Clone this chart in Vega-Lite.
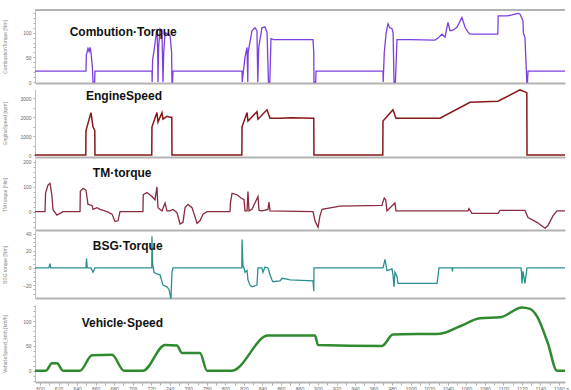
{
  "$schema": "https://vega.github.io/schema/vega-lite/v6.json",
  "padding": {"left": 2, "top": 9, "right": 6, "bottom": 0},
  "background": "white",
  "spacing": 0,
  "datasets": {
    "ct": [
      {"t": 594.6, "v": 22}, {"t": 649.6, "v": 22}, {"t": 650.0, "v": 55}, {"t": 651.8, "v": 68}, {"t": 653, "v": 62}, {"t": 654, "v": 70}, {"t": 655, "v": 60}, {"t": 656.5, "v": 30}, {"t": 657.2, "v": 0}, {"t": 659, "v": 0}, {"t": 659.3, "v": 22},
      {"t": 720.8, "v": 22}, {"t": 721, "v": 0}, {"t": 721.5, "v": 45}, {"t": 723, "v": 63}, {"t": 726.2, "v": 108}, {"t": 727, "v": 60}, {"t": 727.3, "v": 0}, {"t": 728, "v": 70}, {"t": 729.5, "v": 108}, {"t": 731.6, "v": 104}, {"t": 732.7, "v": 0}, {"t": 733.5, "v": 60}, {"t": 735, "v": 100}, {"t": 737, "v": 98}, {"t": 740.3, "v": 95}, {"t": 742, "v": 60}, {"t": 742.4, "v": 0}, {"t": 743, "v": 0}, {"t": 743.5, "v": 22},
      {"t": 818, "v": 22}, {"t": 818.2, "v": 0}, {"t": 821.2, "v": 50}, {"t": 823.4, "v": 70}, {"t": 824.2, "v": 0}, {"t": 824.6, "v": 60}, {"t": 828.7, "v": 104}, {"t": 832, "v": 110}, {"t": 834.1, "v": 104}, {"t": 835, "v": 0}, {"t": 836, "v": 70}, {"t": 839.5, "v": 110}, {"t": 842.8, "v": 112}, {"t": 845, "v": 100}, {"t": 846.5, "v": 0}, {"t": 848, "v": 0}, {"t": 849.2, "v": 88}, {"t": 852, "v": 86}, {"t": 894.6, "v": 86}, {"t": 895.4, "v": 60}, {"t": 895.6, "v": 0}, {"t": 897.5, "v": 0}, {"t": 897.8, "v": 22},
      {"t": 970.1, "v": 22}, {"t": 970.3, "v": 0}, {"t": 971.5, "v": 60}, {"t": 973.4, "v": 98}, {"t": 975.5, "v": 118}, {"t": 977.5, "v": 110}, {"t": 979.8, "v": 108}, {"t": 981, "v": 100}, {"t": 982, "v": 0}, {"t": 983.5, "v": 0}, {"t": 985.2, "v": 86}, {"t": 1000, "v": 86}, {"t": 1026.2, "v": 85}, {"t": 1029.4, "v": 89}, {"t": 1033.8, "v": 97}, {"t": 1037, "v": 91}, {"t": 1040.2, "v": 121}, {"t": 1042.4, "v": 104}, {"t": 1045.6, "v": 105}, {"t": 1049.9, "v": 111}, {"t": 1055.3, "v": 131}, {"t": 1058.6, "v": 111}, {"t": 1061.8, "v": 101}, {"t": 1064, "v": 97}, {"t": 1094, "v": 97}, {"t": 1094.4, "v": 134}, {"t": 1103.9, "v": 134}, {"t": 1109.3, "v": 136}, {"t": 1115.8, "v": 139}, {"t": 1117.9, "v": 138}, {"t": 1121.2, "v": 124}, {"t": 1121.5, "v": 100}, {"t": 1123.3, "v": 90}, {"t": 1125.3, "v": 0}, {"t": 1126, "v": 0}, {"t": 1126.6, "v": 22}, {"t": 1166.5, "v": 22}
    ],
    "es": [
      {"t": 594.6, "v": 0}, {"t": 649.4, "v": 0}, {"t": 649.6, "v": 1300}, {"t": 655, "v": 2250}, {"t": 657.2, "v": 1500}, {"t": 659.1, "v": 1300}, {"t": 659.3, "v": 0},
      {"t": 720.6, "v": 0}, {"t": 720.8, "v": 1500}, {"t": 726.2, "v": 2250}, {"t": 727.3, "v": 1750}, {"t": 731.6, "v": 2250}, {"t": 732.7, "v": 1900}, {"t": 737, "v": 2050}, {"t": 740.3, "v": 2000}, {"t": 742.2, "v": 2000}, {"t": 742.4, "v": 0},
      {"t": 817.8, "v": 0}, {"t": 818, "v": 1500}, {"t": 823.4, "v": 2250}, {"t": 824.4, "v": 1800}, {"t": 834.1, "v": 2300}, {"t": 835.2, "v": 1900}, {"t": 844.9, "v": 2400}, {"t": 848.2, "v": 1950}, {"t": 860, "v": 1950}, {"t": 870, "v": 1980}, {"t": 895.4, "v": 1950}, {"t": 895.6, "v": 0},
      {"t": 969.9, "v": 0}, {"t": 970.1, "v": 1800}, {"t": 980.9, "v": 2400}, {"t": 984.1, "v": 1950}, {"t": 1031.6, "v": 1950}, {"t": 1064, "v": 2800}, {"t": 1094.2, "v": 2850}, {"t": 1117.9, "v": 3450}, {"t": 1123.3, "v": 3350}, {"t": 1125.3, "v": 3300}, {"t": 1125.5, "v": 0}, {"t": 1166.5, "v": 0}
    ],
    "tm": [
      {"t": 594.6, "v": 0}, {"t": 605.4, "v": 0}, {"t": 606, "v": 75}, {"t": 608.6, "v": 107}, {"t": 610.8, "v": 114}, {"t": 612.9, "v": 63}, {"t": 614, "v": 8}, {"t": 618.3, "v": -14}, {"t": 621.6, "v": -7}, {"t": 624.8, "v": 0}, {"t": 643.2, "v": 0}, {"t": 643.5, "v": 82}, {"t": 646.4, "v": 94}, {"t": 649.6, "v": 87}, {"t": 651.8, "v": 29}, {"t": 656.1, "v": 25}, {"t": 657.2, "v": 9}, {"t": 661.5, "v": 16}, {"t": 664.7, "v": 9}, {"t": 672.3, "v": 0}, {"t": 677.7, "v": -10}, {"t": 680.9, "v": -40}, {"t": 684.2, "v": -37}, {"t": 686.3, "v": 0},
      {"t": 711.1, "v": 0}, {"t": 711.4, "v": 68}, {"t": 715.5, "v": 77}, {"t": 720.8, "v": 61}, {"t": 724.1, "v": 48}, {"t": 726.2, "v": 100}, {"t": 727.3, "v": 16}, {"t": 731.6, "v": 3}, {"t": 734.9, "v": 35}, {"t": 737, "v": 3}, {"t": 740.3, "v": 3}, {"t": 743.5, "v": 9}, {"t": 747.8, "v": -4}, {"t": 751.1, "v": -50}, {"t": 754.3, "v": -43}, {"t": 756.5, "v": 16}, {"t": 759.7, "v": 29}, {"t": 764, "v": 16}, {"t": 767.2, "v": -20}, {"t": 769.4, "v": -47}, {"t": 772.6, "v": -37}, {"t": 775.9, "v": -10}, {"t": 780.2, "v": 0},
      {"t": 805, "v": 0}, {"t": 805.5, "v": 35}, {"t": 807.2, "v": 74}, {"t": 812.6, "v": 68}, {"t": 816.9, "v": 55}, {"t": 820.1, "v": 48}, {"t": 821.2, "v": 3}, {"t": 823.4, "v": 3}, {"t": 824.4, "v": 81}, {"t": 825.5, "v": 3}, {"t": 828.7, "v": 9}, {"t": 835.2, "v": 61}, {"t": 836.3, "v": 5}, {"t": 839.5, "v": 3}, {"t": 846, "v": 9}, {"t": 847.1, "v": 38}, {"t": 848.2, "v": 3}, {"t": 894.6, "v": 0}, {"t": 896.7, "v": -37}, {"t": 900, "v": -63}, {"t": 902.1, "v": -17}, {"t": 904.3, "v": 9}, {"t": 923.7, "v": 22}, {"t": 969, "v": 25},
      {"t": 970.1, "v": 40}, {"t": 971.5, "v": 55}, {"t": 973, "v": 48}, {"t": 974.4, "v": 3}, {"t": 983, "v": 35}, {"t": 984.1, "v": 3}, {"t": 1061.8, "v": 3}, {"t": 1062.9, "v": 12}, {"t": 1066.1, "v": -7}, {"t": 1094.2, "v": -7}, {"t": 1096.3, "v": 5}, {"t": 1123.3, "v": 5}, {"t": 1126.6, "v": -24}, {"t": 1136.3, "v": -43}, {"t": 1144.9, "v": -67}, {"t": 1148.1, "v": -56}, {"t": 1153.5, "v": -17}, {"t": 1157.8, "v": 3}, {"t": 1166.5, "v": 3}
    ],
    "bsg": [
      {"t": 594.6, "v": 0}, {"t": 609.5, "v": 0}, {"t": 610.8, "v": 5}, {"t": 611.5, "v": 0}, {"t": 649.6, "v": 0}, {"t": 650.2, "v": 11}, {"t": 651, "v": 0}, {"t": 655, "v": 0}, {"t": 657.2, "v": -5}, {"t": 659.3, "v": 0},
      {"t": 720.6, "v": 0}, {"t": 720.8, "v": 37}, {"t": 721.5, "v": 5}, {"t": 723, "v": -5}, {"t": 726.2, "v": -7}, {"t": 729.5, "v": -8}, {"t": 732.7, "v": -20}, {"t": 737, "v": -22}, {"t": 739.2, "v": -25}, {"t": 741.3, "v": -36}, {"t": 742.4, "v": -5}, {"t": 743.5, "v": 0},
      {"t": 817.8, "v": 0}, {"t": 818, "v": 33}, {"t": 819, "v": 3}, {"t": 820.1, "v": 0}, {"t": 821.2, "v": -5}, {"t": 823.4, "v": -3}, {"t": 824.4, "v": -14}, {"t": 826.6, "v": -20}, {"t": 828.7, "v": -22}, {"t": 834.1, "v": -20}, {"t": 835.2, "v": 0}, {"t": 839.5, "v": 0}, {"t": 840.6, "v": -5}, {"t": 842.8, "v": 1}, {"t": 846, "v": 0}, {"t": 848.2, "v": -8}, {"t": 850.3, "v": -14}, {"t": 851.4, "v": -16}, {"t": 859, "v": -15}, {"t": 861.1, "v": -12}, {"t": 866.5, "v": -13}, {"t": 869.8, "v": -14}, {"t": 894.6, "v": -15}, {"t": 895.4, "v": -27}, {"t": 895.6, "v": 0},
      {"t": 970.1, "v": 0}, {"t": 972.3, "v": 10}, {"t": 974.4, "v": -3}, {"t": 979.8, "v": -1}, {"t": 980.9, "v": -8}, {"t": 982, "v": -22}, {"t": 983, "v": -5}, {"t": 985.2, "v": -10}, {"t": 986.3, "v": -18}, {"t": 1028.4, "v": -18}, {"t": 1029.4, "v": -10}, {"t": 1030.5, "v": 0}, {"t": 1044.5, "v": 0}, {"t": 1045, "v": -4}, {"t": 1045.6, "v": 0}, {"t": 1119, "v": 0}, {"t": 1119.5, "v": -4}, {"t": 1120.1, "v": -18}, {"t": 1121.2, "v": -4}, {"t": 1123.3, "v": -18}, {"t": 1125.5, "v": 0}, {"t": 1166.5, "v": 0}
    ],
    "vs": [
      {"t": 594.6, "v": 0}, {"t": 606.5, "v": 0}, {"t": 612.9, "v": 15}, {"t": 618.3, "v": 15}, {"t": 624.8, "v": 0}, {"t": 643.2, "v": 0}, {"t": 656.1, "v": 31}, {"t": 677.7, "v": 32}, {"t": 690.6, "v": 0}, {"t": 711.1, "v": 0}, {"t": 734.9, "v": 52}, {"t": 747.8, "v": 51}, {"t": 753.2, "v": 36}, {"t": 772.6, "v": 36}, {"t": 780.2, "v": 0}, {"t": 807.2, "v": 0}, {"t": 846, "v": 71}, {"t": 896.7, "v": 71}, {"t": 900, "v": 52}, {"t": 969, "v": 50}, {"t": 980.9, "v": 73}, {"t": 1031.6, "v": 75}, {"t": 1053.2, "v": 90}, {"t": 1074.8, "v": 106}, {"t": 1096.3, "v": 108}, {"t": 1120.1, "v": 128}, {"t": 1128.7, "v": 125}, {"t": 1136.3, "v": 110}, {"t": 1148.1, "v": 55}, {"t": 1157.8, "v": 0}, {"t": 1166.5, "v": 0}
    ]
  },
  "vconcat": [
    {
      "width": 530, "height": 73,
      "layer": [
        {"data": {"values": [{}]}, "mark": {"type": "rule", "color": "#b3b3b3", "strokeWidth": 2}, "encoding": {"y": {"datum": 146, "type": "quantitative"}}},
        {"data": {"name": "ct"}, "mark": {"type": "line", "color": "#7c3fe0", "strokeWidth": 1.3},
         "encoding": {
           "x": {"field": "t", "type": "quantitative", "scale": {"domain": [594.6, 1166.5], "nice": false, "zero": false}, "axis": {"labels": false, "ticks": false, "title": null, "domainWidth": 2, "domainColor": "#b3b3b3", "minExtent": 0, "maxExtent": 0, "labelPadding": 0}},
           "y": {"field": "v", "type": "quantitative", "scale": {"domain": [-2, 146], "nice": false, "zero": false}, "axis": {"title": "CombustionTorque [Nm]", "tickCount": 500, "format": "d", "values": [0,10,20,30,40,50,60,70,80,90,100,110,120,130,140], "labelExpr": "datum.value % 50 == 0 ? datum.label : ''"}}
         }},
        {"data": {"values": [{"t": 632, "v": 101, "label": "Combution·Torque"}]}, "mark": {"type": "text", "align": "left", "baseline": "middle", "font": "Liberation Sans", "fontWeight": "bold", "fontSize": 12, "color": "#111"},
         "encoding": {"x": {"field": "t", "type": "quantitative"}, "y": {"field": "v", "type": "quantitative"}, "text": {"field": "label"}}}
      ]
    },
    {
      "width": 530, "height": 68,
      "layer": [
        {"data": {"name": "es"}, "mark": {"type": "line", "color": "#861818", "strokeWidth": 1.5},
         "encoding": {
           "x": {"field": "t", "type": "quantitative", "scale": {"domain": [594.6, 1166.5], "nice": false, "zero": false}, "axis": {"labels": false, "ticks": false, "title": null, "domainWidth": 2, "domainColor": "#b3b3b3", "minExtent": 0, "maxExtent": 0, "labelPadding": 0}},
           "y": {"field": "v", "type": "quantitative", "scale": {"domain": [-100, 3500], "nice": false, "zero": false}, "axis": {"title": "EngineSpeed [rpm]", "tickCount": 500, "values": [0,500,1000,1500,2000,2500,3000], "labelExpr": "datum.value % 1000 == 0 ? datum.label : ''", "format": "d"}}
         }},
        {"data": {"values": [{"t": 649.6, "v": 3150, "label": "EngineSpeed"}]}, "mark": {"type": "text", "align": "left", "baseline": "middle", "font": "Liberation Sans", "fontWeight": "bold", "fontSize": 12, "color": "#111"},
         "encoding": {"x": {"field": "t", "type": "quantitative"}, "y": {"field": "v", "type": "quantitative"}, "text": {"field": "label"}}}
      ]
    },
    {
      "width": 530, "height": 71,
      "layer": [
        {"data": {"name": "tm"}, "mark": {"type": "line", "color": "#8a2a3c", "strokeWidth": 1.3},
         "encoding": {
           "x": {"field": "t", "type": "quantitative", "scale": {"domain": [594.6, 1166.5], "nice": false, "zero": false}, "axis": {"labels": false, "ticks": false, "title": null, "domainWidth": 2, "domainColor": "#b3b3b3", "minExtent": 0, "maxExtent": 0, "labelPadding": 0}},
           "y": {"field": "v", "type": "quantitative", "scale": {"domain": [-74, 212], "nice": false, "zero": false}, "axis": {"title": "TM torque [Nm]", "tickCount": 500, "format": "d", "values": [-60,-40,-20,0,20,40,60,80,100,120,140,160,180,200], "labelExpr": "datum.value % 100 == 0 ? datum.label : ''"}}
         }},
        {"data": {"values": [{"t": 657, "v": 157, "label": "TM·torque"}]}, "mark": {"type": "text", "align": "left", "baseline": "middle", "font": "Liberation Sans", "fontWeight": "bold", "fontSize": 12, "color": "#111"},
         "encoding": {"x": {"field": "t", "type": "quantitative"}, "y": {"field": "v", "type": "quantitative"}, "text": {"field": "label"}}}
      ]
    },
    {
      "width": 530, "height": 67,
      "layer": [
        {"data": {"name": "bsg"}, "mark": {"type": "line", "color": "#2a8f8f", "strokeWidth": 1.3},
         "encoding": {
           "x": {"field": "t", "type": "quantitative", "scale": {"domain": [594.6, 1166.5], "nice": false, "zero": false}, "axis": {"labels": false, "ticks": false, "title": null, "domainWidth": 2, "domainColor": "#b3b3b3", "minExtent": 0, "maxExtent": 0, "labelPadding": 0}},
           "y": {"field": "v", "type": "quantitative", "scale": {"domain": [-35, 43], "nice": false, "zero": false}, "axis": {"title": "BSG torque [Nm]", "tickCount": 500, "format": "d", "values": [-30,-25,-20,-15,-10,-5,0,5,10,15,20,25,30,35,40], "labelExpr": "datum.value % 20 == 0 ? datum.label : ''"}}
         }},
        {"data": {"values": [{"t": 657, "v": 26, "label": "BSG·Torque"}]}, "mark": {"type": "text", "align": "left", "baseline": "middle", "font": "Liberation Sans", "fontWeight": "bold", "fontSize": 12, "color": "#111"},
         "encoding": {"x": {"field": "t", "type": "quantitative"}, "y": {"field": "v", "type": "quantitative"}, "text": {"field": "label"}}}
      ]
    },
    {
      "width": 530, "height": 77,
      "layer": [
        {"data": {"name": "vs"}, "mark": {"type": "line", "color": "#2f8a2f", "strokeWidth": 2.5, "interpolate": "monotone"},
         "encoding": {
           "x": {"field": "t", "type": "quantitative", "scale": {"domain": [594.6, 1166.5], "nice": false, "zero": false}, "axis": {"title": "s", "titleFontSize": 5, "titleColor": "#555", "titleAnchor": "end", "titleAlign": "left", "titleBaseline": "middle", "titleX": 531, "titleY": 6, "tickCount": 500, "values": [600,610,620,630,640,650,660,670,680,690,700,710,720,730,740,750,760,770,780,790,800,810,820,830,840,850,860,870,880,890,900,910,920,930,940,950,960,970,980,990,1000,1010,1020,1030,1040,1050,1060,1070,1080,1090,1100,1110,1120,1130,1140,1150,1160], "labelExpr": "datum.value % 20 == 0 ? datum.value : ''", "tickSize": 3, "labelPadding": 1, "labelFlush": false, "domainWidth": 2, "domainColor": "#b3b3b3"}},
           "y": {"field": "v", "type": "quantitative", "scale": {"domain": [-23, 133], "nice": false, "zero": false}, "axis": {"title": "VehicleSpeed_kmh [km/h]", "tickCount": 500, "format": "d", "values": [-20,-10,0,10,20,30,40,50,60,70,80,90,100,110,120,130], "labelExpr": "datum.value % 50 == 0 ? datum.label : ''"}}
         }},
        {"data": {"values": [{"t": 645, "v": 97, "label": "Vehicle·Speed"}]}, "mark": {"type": "text", "align": "left", "baseline": "middle", "font": "Liberation Sans", "fontWeight": "bold", "fontSize": 12, "color": "#111"},
         "encoding": {"x": {"field": "t", "type": "quantitative"}, "y": {"field": "v", "type": "quantitative"}, "text": {"field": "label"}}}
      ]
    }
  ],
  "config": {
    "view": {"stroke": null},
    "concat": {"spacing": 0},
    "axis": {"domainColor": "#c0c0c0", "tickColor": "#aaaaaa", "tickSize": 2, "labelColor": "#666666", "labelFontSize": 5, "labelFont": "Liberation Sans", "titleFont": "Liberation Sans", "titleFontSize": 5, "titleFontWeight": "normal", "titleColor": "#888888", "titlePadding": 6, "grid": false, "labelPadding": 2, "labelOverlap": false, "labelBound": false},
    "axisY": {"minExtent": 22, "maxExtent": 22}
  }
}
